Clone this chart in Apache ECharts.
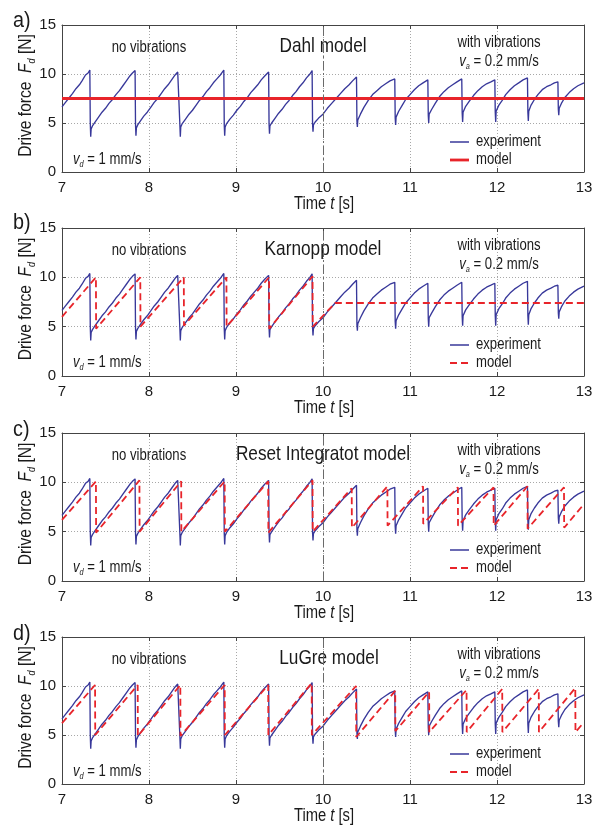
<!DOCTYPE html>
<html><head><meta charset="utf-8">
<script src="https://cdn.jsdelivr.net/npm/echarts@6/dist/echarts.min.js"></script>
<style>html,body{margin:0;padding:0;background:#fff}#c{width:601px;height:829px}</style>
</head><body><div id="c"></div>
<script>
// ---------- data ----------
const xTicks = [7, 8, 9, 10, 11, 12, 13];
const yTicks = [0, 5, 10, 15];
const panelLabels = ['a)', 'b)', 'c)', 'd)'];
const modelTitles = ['Dahl model', 'Karnopp model', 'Reset Integratot model', 'LuGre model'];

const experiment = [
  [7.00,6.65],[7.04,7.1],[7.08,7.55],[7.12,8.0],[7.16,8.5],[7.20,8.9],[7.23,9.3],[7.25,9.5],[7.27,9.9],[7.28,9.7],[7.30,10.1],[7.32,10.4],
  [7.325,5.0],[7.33,3.6],[7.335,4.4],[7.35,4.7],[7.38,5.1],[7.42,5.6],[7.46,6.1],[7.50,6.5],[7.54,7.0],[7.58,7.4],[7.62,7.9],[7.66,8.3],[7.70,8.8],[7.74,9.3],[7.76,9.4],[7.78,9.8],[7.81,10.1],[7.84,10.35],
  [7.845,4.9],[7.85,3.7],[7.855,4.5],[7.87,4.8],[7.90,5.2],[7.94,5.7],[7.98,6.1],[8.02,6.6],[8.06,7.1],[8.10,7.5],[8.14,8.0],[8.18,8.5],[8.22,8.9],[8.26,9.4],[8.30,9.9],[8.33,10.2],[8.35,10.4],
  [8.355,4.8],[8.36,3.6],[8.365,4.6],[8.38,4.9],[8.42,5.4],[8.46,5.9],[8.50,6.3],[8.54,6.8],[8.58,7.3],[8.62,7.7],[8.66,8.2],[8.70,8.6],[8.74,9.1],[8.78,9.5],[8.82,9.9],[8.86,10.4],
  [8.865,4.8],[8.87,3.7],[8.875,4.6],[8.89,4.9],[8.93,5.4],[8.97,5.8],[9.01,6.3],[9.05,6.7],[9.09,7.2],[9.13,7.6],[9.17,8.1],[9.21,8.5],[9.25,8.9],[9.29,9.4],[9.33,9.8],[9.375,10.2],
  [9.38,4.9],[9.385,3.9],[9.39,4.7],[9.41,5.0],[9.45,5.5],[9.49,6.0],[9.53,6.4],[9.57,6.9],[9.61,7.3],[9.65,7.8],[9.69,8.2],[9.73,8.7],[9.77,9.1],[9.81,9.6],[9.85,10.0],[9.875,10.35],
  [9.88,4.9],[9.885,4.1],[9.89,4.8],[9.91,5.1],[9.95,5.5],[10.0,5.9],[10.05,6.5],[10.10,7.0],[10.15,7.5],[10.20,8.0],[10.25,8.5],[10.30,8.9],[10.34,9.3],[10.385,9.7],
  [10.39,5.2],[10.395,4.6],[10.40,5.3],[10.43,5.9],[10.47,6.6],[10.52,7.3],[10.57,7.9],[10.62,8.3],[10.67,8.7],[10.72,9.0],[10.77,9.3],[10.825,9.5],
  [10.83,5.5],[10.835,4.8],[10.84,5.6],[10.87,6.2],[10.91,6.8],[10.95,7.4],[11.00,7.9],[11.05,8.4],[11.10,8.8],[11.15,9.1],[11.205,9.4],
  [11.21,5.8],[11.215,5.0],[11.22,5.9],[11.25,6.4],[11.29,7.0],[11.34,7.7],[11.39,8.2],[11.44,8.6],[11.49,8.9],[11.54,9.2],[11.595,9.5],
  [11.60,6.0],[11.605,5.1],[11.61,6.1],[11.64,6.7],[11.68,7.2],[11.73,7.8],[11.78,8.3],[11.83,8.7],[11.88,9.0],[11.93,9.2],[11.975,9.4],
  [11.98,6.1],[11.985,5.1],[11.99,6.2],[12.02,6.8],[12.06,7.3],[12.10,7.9],[12.15,8.4],[12.20,8.8],[12.25,9.1],[12.30,9.4],[12.35,9.6],
  [12.355,6.1],[12.36,5.2],[12.365,6.2],[12.39,6.8],[12.43,7.4],[12.47,7.9],[12.52,8.4],[12.57,8.7],[12.62,8.9],[12.66,9.1],[12.70,9.2],
  [12.705,6.4],[12.71,5.8],[12.715,6.5],[12.74,7.0],[12.78,7.6],[12.83,8.1],[12.88,8.5],[12.93,8.8],[13.0,9.1]
];
const dahlModel = [[7.0,7.5],[13.0,7.5]];
const karnoppModel = [
  [7.0,6.0],[7.39,10.0],[7.392,4.8],[7.90,10.0],[7.902,5.0],[8.40,10.0],[8.402,5.1],[8.89,10.0],[8.892,5.0],
  [9.38,10.0],[9.382,4.8],[9.88,10.1],[9.882,5.0],[10.14,7.4],[13.0,7.4]
];
const resetModel = [
  [7.0,6.2],[7.39,10.1],[7.392,4.9],[7.89,10.2],[7.892,5.0],[8.37,10.1],[8.372,5.0],[8.87,10.1],[8.872,5.0],
  [9.37,10.1],[9.372,4.9],[9.88,10.2],[9.882,5.0],[10.33,9.4],[10.332,5.4],[10.74,9.6],[10.742,5.6],
  [11.15,9.6],[11.152,5.8],[11.55,9.5],[11.552,5.6],[11.96,9.5],[11.962,5.6],[12.35,9.6],[12.352,5.3],
  [12.77,9.5],[12.772,5.4],[13.0,7.8]
];
const lugreModel = [
  [7.0,6.2],[7.38,10.1],[7.382,5.0],[7.87,10.1],[7.872,4.9],[8.36,10.1],[8.362,4.9],[8.87,10.1],[8.872,5.0],
  [9.37,10.1],[9.372,5.0],[9.87,10.3],[9.872,5.0],[10.38,10.0],[10.382,4.8],[10.83,9.5],[10.832,5.4],
  [11.22,9.4],[11.222,5.3],[11.65,9.6],[11.652,5.3],[12.06,9.7],[12.062,5.3],[12.48,9.7],[12.482,5.3],
  [12.90,9.8],[12.902,5.3],[13.0,6.3]
];
const models = [dahlModel, karnoppModel, resetModel, lugreModel];

// ---------- style / layout ----------
const FONT = '"Liberation Sans",Arial,sans-serif';
const BLUE = '#38389a', RED = '#e8242a', FRAME = '#444', TXT = '#1a1a1a';
const NARROW = 0.82;
const tops = [25, 228, 433, 637];
const heights = [147, 148, 148, 147];
const labelY = [21, 223, 430, 634];
const L = 62, W = 522;

const grids = [], xAxes = [], yAxes = [], series = [], graphics = [];
const rt = (size, italic) => ({font: (italic ? 'italic ' : '') + size + 'px ' + FONT, fill: TXT});
for (let i = 0; i < 4; i++) {
  grids.push({left: L, top: tops[i], width: W, height: heights[i], show: false});
  const common = {type: 'value', gridIndex: i, min: xTicks[0], max: xTicks[xTicks.length - 1], interval: 1};
  xAxes.push(Object.assign({}, common, {
    position: 'bottom',
    axisLine: {show: true, onZero: false, lineStyle: {color: FRAME, width: 1}},
    axisTick: {show: true, inside: true, length: 4, lineStyle: {color: FRAME}},
    axisLabel: {show: true, color: TXT, fontFamily: FONT, fontSize: 15, margin: 8},
    splitLine: {show: true, lineStyle: {color: '#a8a8a8', type: [1, 2], width: 1}}
  }));
  xAxes.push(Object.assign({}, common, {
    position: 'top',
    axisLine: {show: true, onZero: false, lineStyle: {color: FRAME, width: 1}},
    axisTick: {show: true, inside: true, length: 4, lineStyle: {color: FRAME}},
    axisLabel: {show: false}, splitLine: {show: false}
  }));
  const ycommon = {type: 'value', gridIndex: i, min: yTicks[0], max: yTicks[yTicks.length - 1], interval: 5};
  yAxes.push(Object.assign({}, ycommon, {
    position: 'left',
    axisLine: {show: true, onZero: false, lineStyle: {color: FRAME, width: 1}},
    axisTick: {show: true, inside: true, length: 4, lineStyle: {color: FRAME}},
    axisLabel: {show: true, color: TXT, fontFamily: FONT, fontSize: 15, margin: 6},
    splitLine: {show: true, lineStyle: {color: '#a8a8a8', type: [1, 2], width: 1}}
  }));
  yAxes.push(Object.assign({}, ycommon, {
    position: 'right',
    axisLine: {show: true, onZero: false, lineStyle: {color: FRAME, width: 1}},
    axisTick: {show: true, inside: true, length: 4, lineStyle: {color: FRAME}},
    axisLabel: {show: false}, splitLine: {show: false}
  }));

  series.push({
    name: 'experiment', type: 'line', xAxisIndex: 2 * i, yAxisIndex: 2 * i, data: experiment,
    showSymbol: false, symbol: 'none', animation: false, z: 3,
    lineStyle: {color: BLUE, width: 1.35},
    markLine: {silent: true, symbol: 'none', animation: false, label: {show: false},
      lineStyle: {color: '#6a6a6a', width: 1, type: [9, 3, 2, 3]}, data: [{xAxis: 10}]}
  });
  series.push({
    name: 'model', type: 'line', xAxisIndex: 2 * i, yAxisIndex: 2 * i, data: models[i],
    showSymbol: false, symbol: 'none', animation: false, z: 4,
    lineStyle: i === 0 ? {color: RED, width: 2.8} : {color: RED, width: 1.8, type: [7, 4]}
  });

  const T = tops[i], B = tops[i] + heights[i];
  const st = (text, size, extra) => Object.assign({text, font: size + 'px ' + FONT, fill: TXT}, extra || {});
  const nt = (x, y, style) => ({type: 'text', x, y, scaleX: NARROW, style});
  graphics.push({type: 'text', x: 13, y: labelY[i], scaleX: 0.9, style: st(panelLabels[i], 22, {verticalAlign: 'middle'})});
  graphics.push(nt(149, T + 23, st('no vibrations', 16, {align: 'center', verticalAlign: 'middle'})));
  graphics.push(nt(i === 3 ? 329 : 323, T + 21, st(modelTitles[i], 21, {align: 'center', verticalAlign: 'middle'})));
  graphics.push(nt(499, T + 18, st('with vibrations', 16, {align: 'center', verticalAlign: 'middle'})));
  graphics.push(nt(499, T + 37, {
    text: '{i|v}{s|a}{n| = 0.2 mm/s}', align: 'center', verticalAlign: 'middle',
    rich: {i: Object.assign(rt(16, true), {lineHeight: 18}), n: Object.assign(rt(16), {lineHeight: 18}),
           s: Object.assign(rt(9, true), {lineHeight: 10, verticalAlign: 'bottom'})}}));
  graphics.push(nt(73, T + 135, {
    text: '{i|v}{s|d}{n| = 1 mm/s}', align: 'left', verticalAlign: 'middle',
    rich: {i: Object.assign(rt(16, true), {lineHeight: 18}), n: Object.assign(rt(16), {lineHeight: 18}),
           s: Object.assign(rt(9, true), {lineHeight: 10, verticalAlign: 'bottom'})}}));
  // y-axis title (rotated)
  graphics.push({type: 'text', x: 26, y: T + heights[i] / 2 - 3, rotation: Math.PI / 2, scaleX: NARROW, style: {
    text: '{n|Drive force  }{i|F}{s|d}{n| [N]}', align: 'center', verticalAlign: 'middle',
    rich: {n: Object.assign(rt(19), {lineHeight: 22}), i: Object.assign(rt(19, true), {lineHeight: 22}),
           s: Object.assign(rt(11, true), {lineHeight: 12, verticalAlign: 'bottom'})}}});
  // x-axis title
  graphics.push(nt(324, B + 32, {
    text: '{n|Time }{i|t}{n| [s]}', align: 'center', verticalAlign: 'middle',
    rich: {n: rt(18), i: rt(18, true)}}));
  // legend
  graphics.push({type: 'line', shape: {x1: 450, y1: T + 117, x2: 469, y2: T + 117}, style: {stroke: BLUE, lineWidth: 1.5}});
  graphics.push({type: 'line', shape: {x1: 450, y1: T + 135, x2: 469, y2: T + 135},
    style: i === 0 ? {stroke: RED, lineWidth: 2.8} : {stroke: RED, lineWidth: 1.8, lineDash: [7, 4]}});
  graphics.push(nt(476, T + 117, st('experiment', 16, {verticalAlign: 'middle'})));
  graphics.push(nt(476, T + 135, st('model', 16, {verticalAlign: 'middle'})));
}

const chart = echarts.init(document.getElementById('c'), null, {renderer: 'canvas'});
chart.setOption({
  animation: false, backgroundColor: '#fff',
  grid: grids, xAxis: xAxes, yAxis: yAxes, series: series, graphic: graphics
});
</script></body></html>
